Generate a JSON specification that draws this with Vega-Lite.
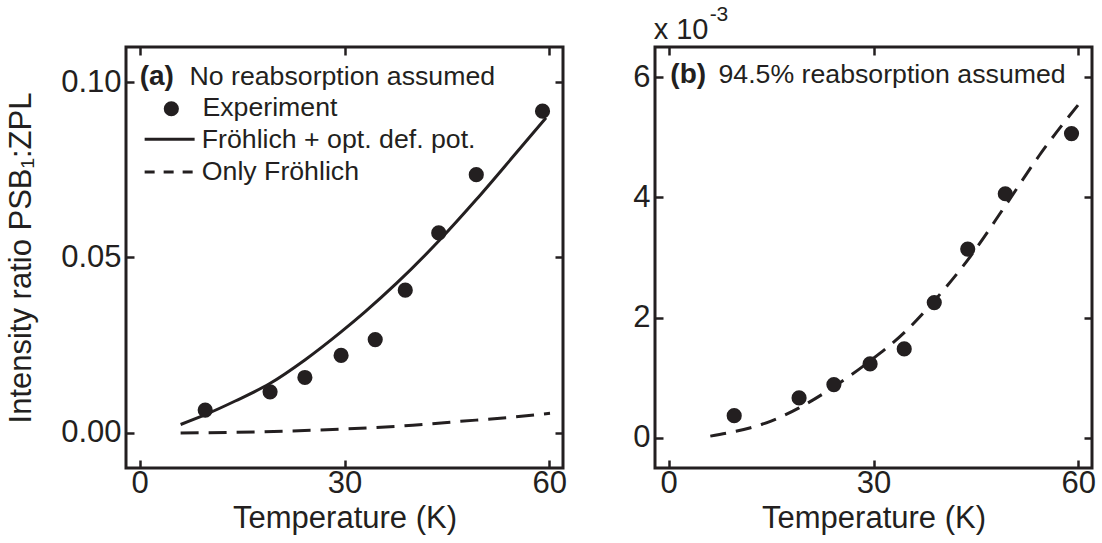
{
  "$schema": "https://vega.github.io/schema/vega-lite/v6.json",
  "background": "white",
  "padding": {"left": 4, "top": 2, "right": 5, "bottom": 5},
  "spacing": 62,
  "config": {
    "view": {"stroke": "#231f20", "strokeWidth": 3},
    "font": "Liberation Sans",
    "axis": {
      "domain": false,
      "grid": false,
      "tickColor": "#231f20",
      "tickWidth": 2.5,
      "tickSize": -8,
      "labelFont": "Liberation Sans",
      "labelFontSize": 31,
      "labelColor": "#231f20",
      "labelFlush": false,
      "titleFont": "Liberation Sans",
      "titleFontSize": 31,
      "titleFontWeight": "normal",
      "titleColor": "#231f20"
    },
    "axisX": {"labelPadding": 8},
    "axisY": {"labelPadding": 13},
    "text": {"font": "Liberation Sans", "color": "#231f20"}
  },
  "datasets": {
    "leftPoints": [
      {"T": 9.6, "ratio": 0.0065},
      {"T": 19.1, "ratio": 0.0117},
      {"T": 24.2, "ratio": 0.0158},
      {"T": 29.5, "ratio": 0.0221},
      {"T": 34.5, "ratio": 0.0266},
      {"T": 38.9, "ratio": 0.0407},
      {"T": 43.8, "ratio": 0.0570},
      {"T": 49.3, "ratio": 0.0736},
      {"T": 59.0, "ratio": 0.0917}
    ],
    "leftFit": [
      {"model": "Fröhlich + opt. def. pot.", "T": 6.0, "ratio": 0.0024},
      {"model": "Fröhlich + opt. def. pot.", "T": 9.6, "ratio": 0.0052},
      {"model": "Fröhlich + opt. def. pot.", "T": 14.0, "ratio": 0.0091},
      {"model": "Fröhlich + opt. def. pot.", "T": 19.0, "ratio": 0.0140},
      {"model": "Fröhlich + opt. def. pot.", "T": 24.2, "ratio": 0.0208},
      {"model": "Fröhlich + opt. def. pot.", "T": 29.5, "ratio": 0.0288},
      {"model": "Fröhlich + opt. def. pot.", "T": 33.0, "ratio": 0.0345},
      {"model": "Fröhlich + opt. def. pot.", "T": 37.6, "ratio": 0.0426},
      {"model": "Fröhlich + opt. def. pot.", "T": 43.9, "ratio": 0.0549},
      {"model": "Fröhlich + opt. def. pot.", "T": 49.3, "ratio": 0.0665},
      {"model": "Fröhlich + opt. def. pot.", "T": 55.1, "ratio": 0.0797},
      {"model": "Fröhlich + opt. def. pot.", "T": 59.5, "ratio": 0.0898},
      {"model": "Only Fröhlich", "T": 6.0, "ratio": 0.0000},
      {"model": "Only Fröhlich", "T": 17.3, "ratio": 0.0003},
      {"model": "Only Fröhlich", "T": 29.5, "ratio": 0.0011},
      {"model": "Only Fröhlich", "T": 40.0, "ratio": 0.0022},
      {"model": "Only Fröhlich", "T": 47.0, "ratio": 0.0033},
      {"model": "Only Fröhlich", "T": 54.0, "ratio": 0.0044},
      {"model": "Only Fröhlich", "T": 60.1, "ratio": 0.0056}
    ],
    "rightPoints": [
      {"T": 9.6, "ratio": 0.37},
      {"T": 19.1, "ratio": 0.665},
      {"T": 24.2, "ratio": 0.887},
      {"T": 29.5, "ratio": 1.23},
      {"T": 34.5, "ratio": 1.48},
      {"T": 38.9, "ratio": 2.25},
      {"T": 43.8, "ratio": 3.14},
      {"T": 49.3, "ratio": 4.06},
      {"T": 59.0, "ratio": 5.06}
    ],
    "rightFit": [
      {"T": 6.1, "ratio": 0.03},
      {"T": 9.0, "ratio": 0.09},
      {"T": 12.0, "ratio": 0.17},
      {"T": 15.0, "ratio": 0.28},
      {"T": 19.1, "ratio": 0.50},
      {"T": 24.2, "ratio": 0.85},
      {"T": 29.5, "ratio": 1.28},
      {"T": 34.5, "ratio": 1.75},
      {"T": 38.9, "ratio": 2.28},
      {"T": 44.2, "ratio": 3.02},
      {"T": 49.3, "ratio": 3.86},
      {"T": 54.3, "ratio": 4.70},
      {"T": 60.2, "ratio": 5.57}
    ]
  },
  "hconcat": [
    {
      "width": 437,
      "height": 421,
      "layer": [
        {
          "data": {"name": "leftFit"},
          "transform": [{"filter": "datum.model == 'Fröhlich + opt. def. pot.'"}],
          "mark": {"type": "line", "color": "#231f20", "strokeWidth": 3, "interpolate": "monotone"},
          "encoding": {
            "x": {"field": "T", "type": "quantitative", "scale": {"domain": [-2, 62], "nice": false, "zero": false},
                  "axis": {"orient": "bottom", "values": [0, 30, 60], "title": "Temperature (K)", "titlePadding": 5}},
            "y": {"field": "ratio", "type": "quantitative", "scale": {"domain": [-0.01, 0.11], "nice": false, "zero": false},
                  "axis": {"orient": "left", "values": [0, 0.05, 0.1], "format": ".2f", "title": "Intensity ratio PSB₁:ZPL", "titlePadding": 23}}
          }
        },
        {
          "data": {"name": "leftFit"},
          "transform": [{"filter": "datum.model == 'Only Fröhlich'"}],
          "mark": {"type": "line", "color": "#231f20", "strokeWidth": 3, "strokeDash": [18, 10], "interpolate": "monotone"},
          "encoding": {
            "x": {"field": "T", "type": "quantitative", "axis": null},
            "y": {"field": "ratio", "type": "quantitative", "axis": null}
          }
        },
        {
          "data": {"name": "leftPoints"},
          "mark": {"type": "point", "filled": true, "color": "#231f20", "opacity": 1, "size": 230},
          "encoding": {
            "x": {"field": "T", "type": "quantitative", "axis": {"orient": "top", "values": [0, 30, 60], "labels": false, "title": null}},
            "y": {"field": "ratio", "type": "quantitative", "axis": {"orient": "right", "values": [0, 0.05, 0.1], "labels": false, "title": null}}
          }
        },
        {
          "data": {"values": [{}]},
          "mark": {"type": "text", "align": "left", "baseline": "alphabetic", "fontSize": 28, "fontWeight": "bold"},
          "encoding": {"x": {"datum": 0.0, "type": "quantitative", "axis": null}, "y": {"datum": 0.0993, "type": "quantitative", "axis": null}, "text": {"value": "(a)"}}
        },
        {
          "data": {"values": [{}]},
          "mark": {"type": "text", "align": "left", "baseline": "alphabetic", "fontSize": 26.7},
          "encoding": {"x": {"datum": 7.3, "type": "quantitative", "axis": null}, "y": {"datum": 0.0993, "type": "quantitative", "axis": null}, "text": {"value": "No reabsorption assumed"}}
        },
        {
          "data": {"values": [{}]},
          "mark": {"type": "point", "filled": true, "color": "#231f20", "opacity": 1, "size": 230},
          "encoding": {"x": {"datum": 4.64, "type": "quantitative", "axis": null}, "y": {"datum": 0.0924, "type": "quantitative", "axis": null}}
        },
        {
          "data": {"values": [{}]},
          "mark": {"type": "text", "align": "left", "baseline": "alphabetic", "fontSize": 26.7},
          "encoding": {"x": {"datum": 9.2, "type": "quantitative", "axis": null}, "y": {"datum": 0.0902, "type": "quantitative", "axis": null}, "text": {"value": "Experiment"}}
        },
        {
          "data": {"values": [{}]},
          "mark": {"type": "rule", "color": "#231f20", "strokeWidth": 3},
          "encoding": {"x": {"datum": 0.73, "type": "quantitative", "axis": null}, "x2": {"datum": 8.05}, "y": {"datum": 0.0837, "type": "quantitative", "axis": null}}
        },
        {
          "data": {"values": [{}]},
          "mark": {"type": "text", "align": "left", "baseline": "alphabetic", "fontSize": 26.7},
          "encoding": {"x": {"datum": 9.1, "type": "quantitative", "axis": null}, "y": {"datum": 0.0812, "type": "quantitative", "axis": null}, "text": {"value": "Fröhlich + opt. def. pot."}}
        },
        {
          "data": {"values": [{}]},
          "mark": {"type": "rule", "color": "#231f20", "strokeWidth": 3, "strokeDash": [10, 9]},
          "encoding": {"x": {"datum": 0.73, "type": "quantitative", "axis": null}, "x2": {"datum": 8.05}, "y": {"datum": 0.0744, "type": "quantitative", "axis": null}}
        },
        {
          "data": {"values": [{}]},
          "mark": {"type": "text", "align": "left", "baseline": "alphabetic", "fontSize": 26.7},
          "encoding": {"x": {"datum": 9.1, "type": "quantitative", "axis": null}, "y": {"datum": 0.0722, "type": "quantitative", "axis": null}, "text": {"value": "Only Fröhlich"}}
        }
      ]
    },
    {
      "width": 437,
      "height": 421,
      "layer": [
        {
          "data": {"name": "rightFit"},
          "mark": {"type": "line", "color": "#231f20", "strokeWidth": 3, "strokeDash": [16, 10], "interpolate": "monotone"},
          "encoding": {
            "x": {"field": "T", "type": "quantitative", "scale": {"domain": [-2, 62], "nice": false, "zero": false},
                  "axis": {"orient": "bottom", "values": [0, 30, 60], "title": "Temperature (K)", "titlePadding": 5}},
            "y": {"field": "ratio", "type": "quantitative", "scale": {"domain": [-0.5, 6.5], "nice": false, "zero": false},
                  "axis": {"orient": "left", "values": [0, 2, 4, 6], "format": "d", "title": null}}
          }
        },
        {
          "data": {"name": "rightPoints"},
          "mark": {"type": "point", "filled": true, "color": "#231f20", "opacity": 1, "size": 230},
          "encoding": {
            "x": {"field": "T", "type": "quantitative", "axis": {"orient": "top", "values": [0, 30, 60], "labels": false, "title": null}},
            "y": {"field": "ratio", "type": "quantitative", "axis": {"orient": "right", "values": [0, 2, 4, 6], "labels": false, "title": null}}
          }
        },
        {
          "data": {"values": [{}]},
          "mark": {"type": "text", "align": "left", "baseline": "alphabetic", "fontSize": 28, "fontWeight": "bold"},
          "encoding": {"x": {"datum": 0.25, "type": "quantitative", "axis": null}, "y": {"datum": 5.895, "type": "quantitative", "axis": null}, "text": {"value": "(b)"}}
        },
        {
          "data": {"values": [{}]},
          "mark": {"type": "text", "align": "left", "baseline": "alphabetic", "fontSize": 26.7},
          "encoding": {"x": {"datum": 7.3, "type": "quantitative", "axis": null}, "y": {"datum": 5.895, "type": "quantitative", "axis": null}, "text": {"value": "94.5% reabsorption assumed"}}
        },
        {
          "data": {"values": [{}]},
          "mark": {"type": "text", "align": "left", "baseline": "alphabetic", "fontSize": 29},
          "encoding": {"x": {"datum": -2.2, "type": "quantitative", "axis": null}, "y": {"datum": 6.627, "type": "quantitative", "axis": null}, "text": {"value": "x 10"}}
        },
        {
          "data": {"values": [{}]},
          "mark": {"type": "text", "align": "left", "baseline": "alphabetic", "fontSize": 21},
          "encoding": {"x": {"datum": 6.0, "type": "quantitative", "axis": null}, "y": {"datum": 6.93, "type": "quantitative", "axis": null}, "text": {"value": "-3"}}
        }
      ]
    }
  ]
}
